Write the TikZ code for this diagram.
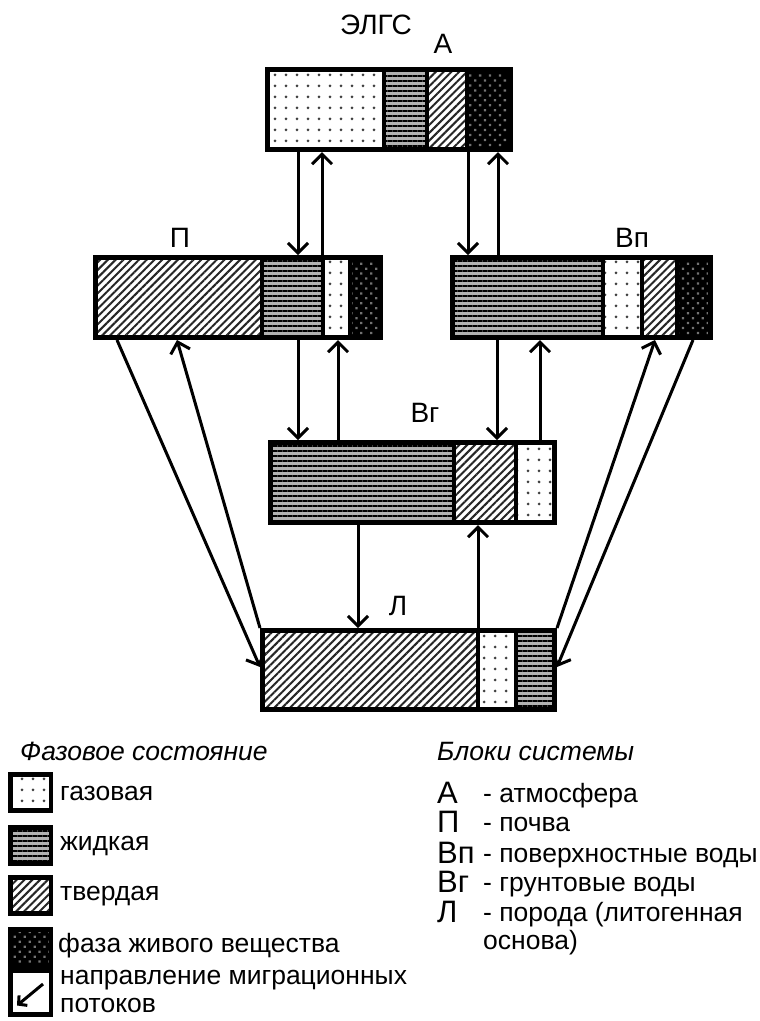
\documentclass[tikz,border=0pt]{standalone}
\usepackage{fontspec}
\setmainfont{Liberation Sans}
\usetikzlibrary{patterns.meta,arrows.meta}
\newcommand\blkseg[3]{\path[#1] ([xshift=#2pt]path picture bounding box.north west) rectangle ([xshift=#3pt]path picture bounding box.south west);}
\newcommand\blkdiv[1]{\draw[line width=3.5pt] ([xshift=#1pt]path picture bounding box.north west) -- ([xshift=#1pt]path picture bounding box.south west);}
\newcommand\lgfill[1]{\path[#1] (path picture bounding box.south west) rectangle (path picture bounding box.north east);}
\tikzset{
 gas/.style={preaction={fill=white}, pattern={Dots[distance=11pt,radius=1.5pt]}, pattern color=black!75},
 liq/.style={preaction={fill=black!30}, pattern={Lines[angle=0,distance=5pt,line width=2.6pt]}, pattern color=black},
 sol/.style={preaction={fill=white}, pattern={Lines[angle=45,distance=5.5pt,line width=2pt]}, pattern color=black!85},
 liv/.style={preaction={fill=black}, pattern={Dots[angle=45,distance=7pt,radius=1.6pt]}, pattern color=black!55},
 block/.style={draw, line width=5pt, inner sep=0pt, anchor=north west},
 lgbox/.style={draw, line width=4.5pt, inner sep=0pt, anchor=north west, minimum width=40.5pt, minimum height=36pt},
 arr/.style={line width=3pt, -{Straight Barb[length=10pt,width=20pt]}},
 lbl/.style={font=\fontsize{28}{32}\selectfont, inner sep=0pt},
 lgt/.style={font=\fontsize{26.5}{30}\selectfont, inner sep=0pt, anchor=base west},
 lgl/.style={font=\fontsize{31}{34}\selectfont, inner sep=0pt, anchor=base west},
}
\begin{document}
\begin{tikzpicture}[x=1pt,y=-1pt]
\useasboundingbox (0,0) rectangle (760,1021);

% blocks
\node[block, minimum width=243pt, minimum height=80pt, path picture={
  \blkseg{gas}{0}{116.5}\blkseg{liq}{116.5}{159.5}\blkseg{sol}{159.5}{199.5}\blkseg{liv}{199.5}{243}
  \blkdiv{116.5}\blkdiv{159.5}\blkdiv{199.5}}] (A) at (265,67) {};
\node[block, minimum width=285pt, minimum height=80pt, path picture={
  \blkseg{sol}{0}{166.5}\blkseg{liq}{166.5}{227.5}\blkseg{gas}{227.5}{254.5}\blkseg{liv}{254.5}{285}
  \blkdiv{166.5}\blkdiv{227.5}\blkdiv{254.5}}] (P) at (93,255) {};
\node[block, minimum width=258pt, minimum height=80pt, path picture={
  \blkseg{liq}{0}{150.5}\blkseg{gas}{150.5}{189.5}\blkseg{sol}{189.5}{224.5}\blkseg{liv}{224.5}{258}
  \blkdiv{150.5}\blkdiv{189.5}\blkdiv{224.5}}] (Vp) at (450,255) {};
\node[block, minimum width=284pt, minimum height=80pt, path picture={
  \blkseg{liq}{0}{183.5}\blkseg{sol}{183.5}{245.5}\blkseg{gas}{245.5}{284}
  \blkdiv{183.5}\blkdiv{245.5}}] (Vg) at (268,440) {};
\node[block, minimum width=292pt, minimum height=79pt, path picture={
  \blkseg{sol}{0}{215.5}\blkseg{gas}{215.5}{253.5}\blkseg{liq}{253.5}{292}
  \blkdiv{215.5}\blkdiv{253.5}}] (L) at (260,628) {};

% labels
\node[lbl] (tELGS) at (376,25) {ЭЛГС};
\node[lbl] (tA) at (443,44) {А};
\node[lbl] (tP) at (180,238) {П};
\node[lbl] (tVp) at (632,238) {Вп};
\node[lbl] (tVg) at (425,413) {Вг};
\node[lbl] (tL) at (398,606) {Л};

% vertical arrows
\draw[arr] ([xshift=33pt]A.south west) -- ([xshift=205pt]P.north west);
\draw[arr] ([xshift=229pt]P.north west) -- ([xshift=57pt]A.south west);
\draw[arr] ([xshift=203pt]A.south west) -- ([xshift=18pt]Vp.north west);
\draw[arr] ([xshift=48pt]Vp.north west) -- ([xshift=233pt]A.south west);
\draw[arr] ([xshift=205pt]P.south west) -- ([xshift=30pt]Vg.north west);
\draw[arr] ([xshift=70pt]Vg.north west) -- ([xshift=245pt]P.south west);
\draw[arr] ([xshift=47pt]Vp.south west) -- ([xshift=229pt]Vg.north west);
\draw[arr] ([xshift=272pt]Vg.north west) -- ([xshift=90pt]Vp.south west);
\draw[arr] ([xshift=90pt]Vg.south west) -- ([xshift=98pt]L.north west);
\draw[arr] ([xshift=218pt]L.north west) -- ([xshift=210pt]Vg.south west);

% diagonal arrows
\draw[arr] ([xshift=24pt]P.south west) -- ([yshift=3pt]L.west);
\draw[arr] (L.north west) -- ([xshift=84pt]P.south west);
\draw[arr] ([xshift=243pt]Vp.south west) -- ([yshift=3pt]L.east);
\draw[arr] (L.north east) -- ([xshift=205pt]Vp.south west);

% legend left
\node[lgt, font=\fontsize{26.5}{30}\selectfont\itshape] (hPhase) at (20,760) {Фазовое состояние};
\node[lgbox, path picture={\lgfill{gas}}] (lg1) at (8,772) {};
\node[lgt] (t1) at (60,800) {газовая};
\node[lgbox, path picture={\lgfill{liq}}] (lg2) at (8,825) {};
\node[lgt] (t2) at (60,850) {жидкая};
\node[lgbox, path picture={\lgfill{sol}}] (lg3) at (8,875) {};
\node[lgt] (t3) at (60,900) {твердая};
\node[lgbox, path picture={\lgfill{liv}}] (lg4) at (8,927) {};
\node[lgt] (t4) at (58,952) {фаза живого вещества};
\node[lgbox, fill=white, minimum height=44pt] (lg5) at (8,968) {};
\draw[line width=3pt, -{Straight Barb[length=6pt,width=13pt]}] ([shift={(-10pt,-16pt)}]lg5.north east) -- ([shift={(9pt,11pt)}]lg5.south west);
\node[lgt] (t5) at (60,984) {направление миграционных};
\node[lgt] (t6) at (60,1012) {потоков};

% legend right
\node[lgt, font=\fontsize{26.5}{30}\selectfont\itshape] (hBlocks) at (437,760) {Блоки системы};
\node[lgl] (kA) at (437,803) {А};
\node[lgt] (dA) at (483,802) {- атмосфера};
\node[lgl] (kP) at (437,832) {П};
\node[lgt] (dP) at (483,831) {- почва};
\node[lgl] (kVp) at (437,863) {Вп};
\node[lgt] (dVp) at (483,862) {- поверхностные воды};
\node[lgl] (kVg) at (437,892) {Вг};
\node[lgt] (dVg) at (483,891) {- грунтовые воды};
\node[lgl] (kL) at (437,922) {Л};
\node[lgt] (dL) at (483,921) {- порода (литогенная};
\node[lgt] (dL2) at (483,949) {основа)};
\end{tikzpicture}
\end{document}
